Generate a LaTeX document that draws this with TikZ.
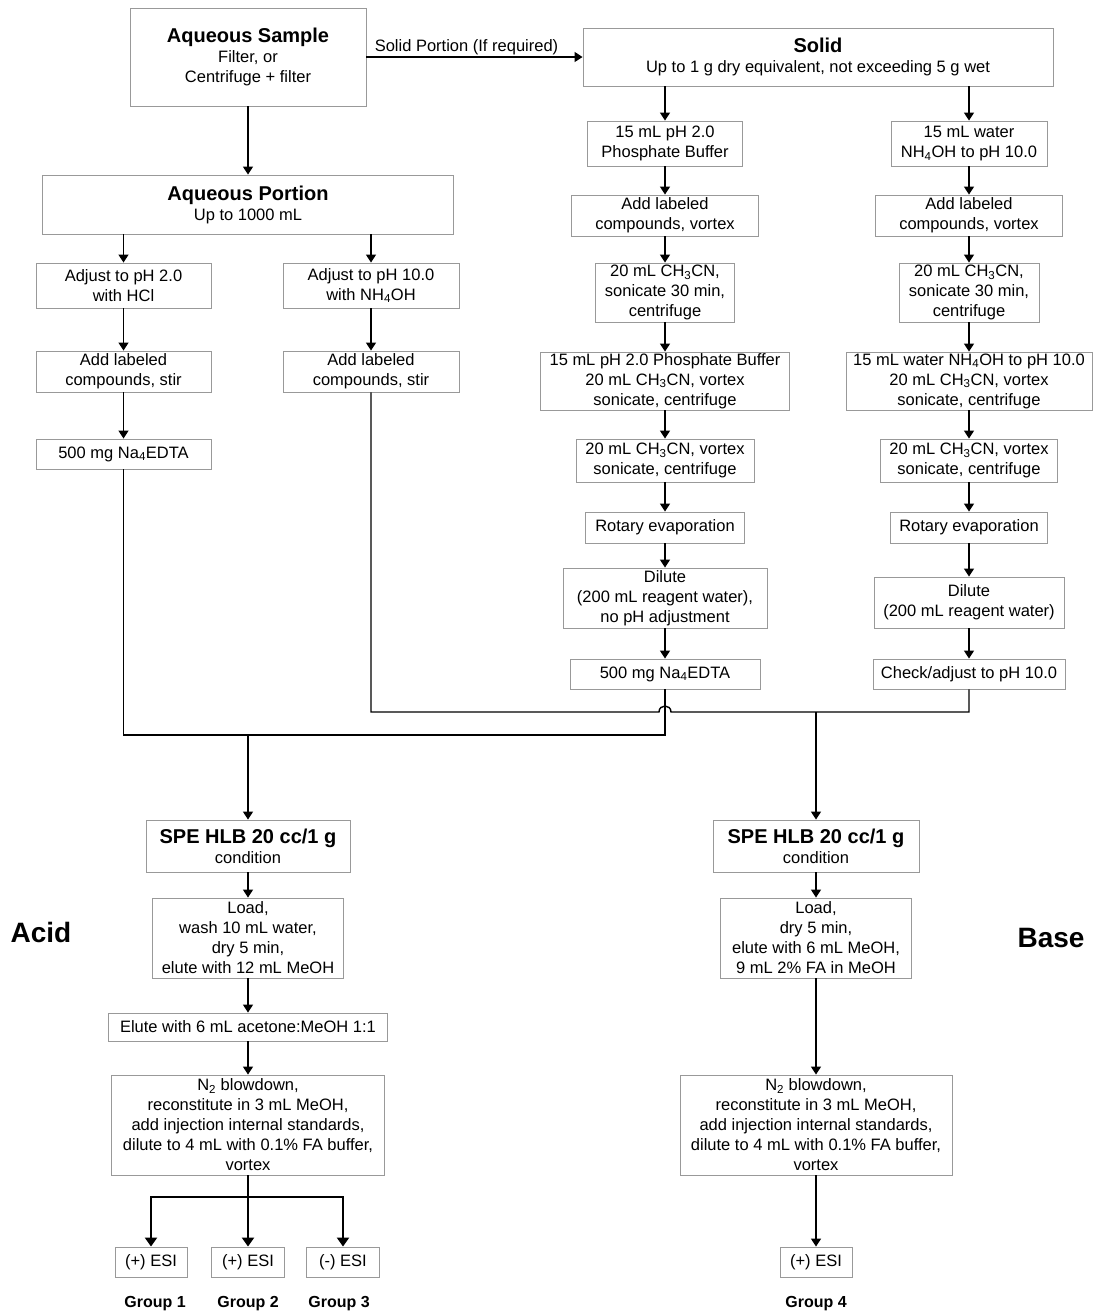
\documentclass[tikz,border=0pt]{standalone}
\usepackage{fontspec}
\setmainfont{Liberation Sans}
\usetikzlibrary{arrows.meta}
\newcommand{\ttl}{\fontsize{20}{24}\selectfont\bfseries}
\newcommand{\sbs}[1]{\textsubscript{#1}}
\begin{document}
\begin{tikzpicture}[x=1pt,y=-1pt,
  bx/.style={draw=black!40, line width=0.9pt, align=center, inner sep=0pt,
    font=\fontsize{16.5}{20}\selectfont},
  arr/.style={line width=1.4pt, -{Triangle[length=8pt,width=10pt]}},
  ln/.style={line width=1.4pt},
  arrb/.style={line width=2.2pt, -{Triangle[length=9pt,width=12pt]}},
  lbl/.style={font=\fontsize{16.5}{20}\selectfont, inner sep=1pt},
  grp/.style={font=\fontsize{16}{20}\selectfont\bfseries, inner sep=0pt},
  side/.style={font=\fontsize{28}{32}\selectfont\bfseries, inner sep=0pt}]
\useasboundingbox (0,0) rectangle (1096,1315);

% top
\node[bx, minimum width=236pt, minimum height=98pt] (as) at (248,57)
  {{\ttl Aqueous Sample}\\Filter, or\\Centrifuge + filter};
\node[bx, minimum width=470pt, minimum height=58pt] (solid) at (818,57)
  {{\ttl Solid}\\Up to 1 g dry equivalent, not exceeding 5 g wet};
\node[bx, minimum width=411pt, minimum height=59pt] (ap) at (248,204.5)
  {{\ttl Aqueous Portion}\\Up to 1000 mL};

% left aqueous columns
\node[bx, minimum width=175pt, minimum height=45pt] (adj2) at (123.5,285.5)
  {Adjust to pH 2.0\\with HCl};
\node[bx, minimum width=176pt, minimum height=45pt] (adj10) at (371,285.5)
  {Adjust to pH 10.0\\with NH\sbs{4}OH};
\node[bx, minimum width=175pt, minimum height=41pt] (addL) at (123.5,371.5)
  {Add labeled\\compounds, stir};
\node[bx, minimum width=176pt, minimum height=41pt] (addR) at (371,371.5)
  {Add labeled\\compounds, stir};
\node[bx, minimum width=175pt, minimum height=30pt] (edtaL) at (123.5,454)
  {500 mg Na\sbs{4}EDTA};

% solid column A
\node[bx, minimum width=155pt, minimum height=45pt] (a1) at (665,143.5)
  {15 mL pH 2.0\\Phosphate Buffer};
\node[bx, minimum width=187pt, minimum height=41pt] (a2) at (665,215.5)
  {Add labeled\\compounds, vortex};
\node[bx, minimum width=139pt, minimum height=59pt] (a3) at (665,292.5)
  {20 mL CH\sbs{3}CN,\\sonicate 30 min,\\centrifuge};
\node[bx, minimum width=249pt, minimum height=58pt] (a4) at (665,381)
  {15 mL pH 2.0 Phosphate Buffer\\20 mL CH\sbs{3}CN, vortex\\sonicate, centrifuge};
\node[bx, minimum width=178pt, minimum height=43pt] (a5) at (665,460.5)
  {20 mL CH\sbs{3}CN, vortex\\sonicate, centrifuge};
\node[bx, minimum width=159pt, minimum height=31pt] (a6) at (665,527.5)
  {Rotary evaporation};
\node[bx, minimum width=204pt, minimum height=60pt] (a7) at (665,598)
  {Dilute\\(200 mL reagent water),\\no pH adjustment};
\node[bx, minimum width=190pt, minimum height=30pt] (a8) at (665,674)
  {500 mg Na\sbs{4}EDTA};

% solid column B
\node[bx, minimum width=156pt, minimum height=45pt] (b1) at (969,143.5)
  {15 mL water\\NH\sbs{4}OH to pH 10.0};
\node[bx, minimum width=187pt, minimum height=41pt] (b2) at (969,215.5)
  {Add labeled\\compounds, vortex};
\node[bx, minimum width=140pt, minimum height=59pt] (b3) at (969,292.5)
  {20 mL CH\sbs{3}CN,\\sonicate 30 min,\\centrifuge};
\node[bx, minimum width=246pt, minimum height=58pt] (b4) at (969,381)
  {15 mL water NH\sbs{4}OH to pH 10.0\\20 mL CH\sbs{3}CN, vortex\\sonicate, centrifuge};
\node[bx, minimum width=177pt, minimum height=43pt] (b5) at (969,460.5)
  {20 mL CH\sbs{3}CN, vortex\\sonicate, centrifuge};
\node[bx, minimum width=157pt, minimum height=31pt] (b6) at (969,527.5)
  {Rotary evaporation};
\node[bx, minimum width=190pt, minimum height=51pt] (b7) at (969,602.5)
  {Dilute\\(200 mL reagent water)};
\node[bx, minimum width=192pt, minimum height=30pt] (b8) at (969,674)
  {Check/adjust to pH 10.0};

% bottom left (acid)
\node[bx, minimum width=204pt, minimum height=52pt] (speL) at (248,846)
  {{\ttl SPE HLB 20 cc/1 g}\\condition};
\node[bx, minimum width=191pt, minimum height=80pt] (loadL) at (248,938)
  {Load,\\wash 10 mL water,\\dry 5 min,\\elute with 12 mL MeOH};
\node[bx, minimum width=279pt, minimum height=28pt] (eluteL) at (248,1027)
  {Elute with 6 mL acetone:MeOH 1:1};
\node[bx, minimum width=273pt, minimum height=100pt] (n2L) at (248,1125)
  {N\sbs{2} blowdown,\\reconstitute in 3 mL MeOH,\\add injection internal standards,\\dilute to 4 mL with 0.1\% FA buffer,\\vortex};
\node[bx, minimum width=72pt, minimum height=30pt] (esi1) at (151,1262) {(+) ESI};
\node[bx, minimum width=73pt, minimum height=30pt] (esi2) at (248,1262) {(+) ESI};
\node[bx, minimum width=73pt, minimum height=30pt] (esi3) at (343,1262) {(-) ESI};
\node[grp] (g1) at (155,1304) {Group 1};
\node[grp] (g2) at (248,1304) {Group 2};
\node[grp] (g3) at (339,1304) {Group 3};

% bottom right (base)
\node[bx, minimum width=206pt, minimum height=52pt] (speR) at (816,846)
  {{\ttl SPE HLB 20 cc/1 g}\\condition};
\node[bx, minimum width=191pt, minimum height=80pt] (loadR) at (816,938)
  {Load,\\dry 5 min,\\elute with 6 mL MeOH,\\9 mL 2\% FA in MeOH};
\node[bx, minimum width=272pt, minimum height=100pt] (n2R) at (816,1125)
  {N\sbs{2} blowdown,\\reconstitute in 3 mL MeOH,\\add injection internal standards,\\dilute to 4 mL with 0.1\% FA buffer,\\vortex};
\node[bx, minimum width=72pt, minimum height=30pt] (esi4) at (816,1262) {(+) ESI};
\node[grp] (g4) at (816,1304) {Group 4};

\node[side] (acid) at (41,932) {Acid};
\node[side] (base) at (1051,938) {Base};

% connectors top
\draw[arr] (as.east) -- node[lbl, above, xshift=-8pt] {Solid Portion (If required)} (solid.west);
\draw[arr] (as.south) -- (ap.north);
\draw[arr] (adj2.north |- ap.south) -- (adj2.north);
\draw[arr] (adj10.north |- ap.south) -- (adj10.north);
\draw[arr] (adj2) -- (addL);
\draw[arr] (addL) -- (edtaL);
\draw[arr] (adj10) -- (addR);
\draw[arr] (a1.north |- solid.south) -- (a1.north);
\draw[arr] (b1.north |- solid.south) -- (b1.north);
\foreach \u/\v in {a1/a2,a2/a3,a3/a4,a4/a5,a5/a6,a6/a7,a7/a8,
                   b1/b2,b2/b3,b3/b4,b4/b5,b5/b6,b6/b7,b7/b8}
  \draw[arr] (\u.south) -- (\v.north);

% merges
\coordinate (jL) at (665,735);
\coordinate (jR) at (969,712);
\draw[ln] (edtaL.south) |- (jL) -- (a8.south);
\draw[arr] (speL.north |- jL) -- (speL.north);
\draw[ln] (addR.south) -- (addR.south |- jR) -- (659,712)
  .. controls (659,704) and (671,704) .. (671,712) -- (jR) -- (b8.south);
\draw[arr] (speR.north |- jR) -- (speR.north);

% bottom chains
\draw[arr] (speL) -- (loadL);
\draw[arr] (loadL) -- (eluteL);
\draw[arr] (eluteL) -- (n2L);
\draw[arr] (speR) -- (loadR);
\draw[arr] (loadR) -- (n2R);
\draw[arr] (n2R) -- (esi4);
\coordinate (br) at (248,1197);
\draw[line width=2.2pt] (n2L.south) -- (br);
\draw[arrb] (br) -| (esi1.north);
\draw[arrb] (br) -| (esi3.north);
\draw[arrb] (br) -- (esi2.north);
\end{tikzpicture}
\end{document}
